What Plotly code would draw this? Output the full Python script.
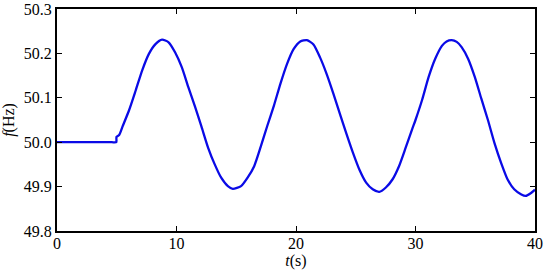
import plotly.graph_objects as go

# Time (s) and frequency (Hz)
t_s = [0.0, 2.0, 4.0, 4.6, 4.96, 4.98, 5.2, 5.48, 6.03, 6.59, 7.13, 7.69, 8.24, 8.79, 9.34, 9.89,
       10.44, 10.99, 11.55, 12.09, 12.64, 13.20, 13.74, 14.30, 14.71, 15.40, 15.95,
       16.50, 17.05, 17.60, 18.16, 18.70, 19.26, 19.81, 20.36, 20.91, 21.46, 22.01,
       22.56, 23.12, 23.66, 24.21, 24.77, 25.31, 25.87, 26.42, 26.97, 27.52, 28.07,
       28.62, 29.17, 29.73, 30.0, 30.55, 31.1, 31.65, 32.21, 32.6, 33.03, 33.45, 33.86,
       34.40, 34.96, 35.51, 36.06, 36.61, 37.17, 37.71, 38.26, 38.82, 39.23, 39.64, 40.0]
f_hz = [50.0, 50.0, 50.0, 50.0, 50.0, 50.012, 50.016, 50.035, 50.072, 50.117, 50.162, 50.199, 50.221,
        50.231, 50.225, 50.202, 50.169, 50.124, 50.080, 50.035, 49.988, 49.950, 49.920,
        49.901, 49.895, 49.901, 49.920, 49.946, 49.990, 50.037, 50.083, 50.132, 50.177,
        50.210, 50.227, 50.230, 50.220, 50.191, 50.154, 50.110, 50.065, 50.020, 49.976,
        49.938, 49.909, 49.894, 49.888, 49.898, 49.916, 49.946, 49.987, 50.030, 50.050,
        50.095, 50.147, 50.188, 50.217, 50.227, 50.230, 50.226, 50.214, 50.188, 50.147,
        50.098, 50.050, 49.998, 49.953, 49.916, 49.894, 49.883, 49.879, 49.885, 49.893]

x_ticks = [0, 10, 20, 30, 40]
y_ticks = [49.8, 49.9, 50.0, 50.1, 50.2, 50.3]
y_tick_labels = ["49.8", "49.9", "50.0", "50.1", "50.2", "50.3"]

font = dict(family="Liberation Serif", size=16, color="black")

fig = go.Figure()
fig.add_trace(go.Scatter(x=t_s, y=f_hz, mode="lines",
                         line=dict(color="#0a0ae6", width=2.3, shape="spline", smoothing=0.6)))

fig.update_layout(
    width=550, height=271,
    margin=dict(l=57, r=9, t=7, b=40),
    paper_bgcolor="white", plot_bgcolor="white",
    showlegend=False,
    font=font,
    xaxis=dict(range=[0, 40], tickvals=x_ticks, ticktext=[str(v) for v in x_ticks],
               ticks="inside", ticklen=5, tickwidth=1, tickcolor="black",
               tickfont=font, automargin=True, ticklabeloverflow="allow",
               ticklabelstandoff=-3,
               showgrid=False, zeroline=False, showline=True, linecolor="black",
               linewidth=2, mirror="allticks",
               title=dict(text="<i>t</i>(s)", font=font, standoff=0)),
    yaxis=dict(range=[49.8, 50.3], tickvals=y_ticks, ticktext=y_tick_labels,
               ticks="inside", ticklen=5, tickwidth=1, tickcolor="black",
               tickfont=font, automargin=False, ticklabeloverflow="allow",
               showgrid=False, zeroline=False, showline=True, linecolor="black",
               linewidth=2, mirror="allticks",
               title=dict(text="<i>f</i>(Hz)", font=font)),
)

fig.write_html("out.html", config={"displayModeBar": False},
               post_script="document.body.style.margin='0';")
